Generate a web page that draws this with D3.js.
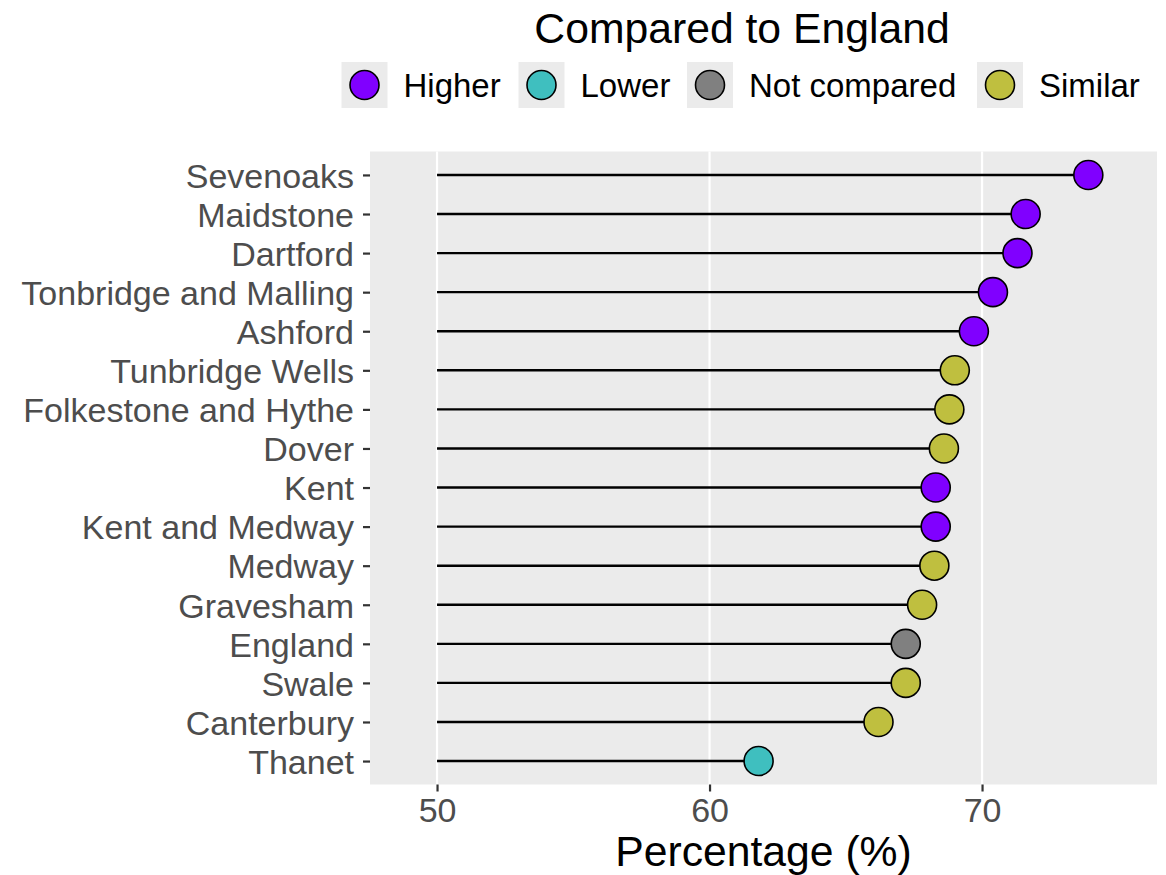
<!DOCTYPE html>
<html>
<head>
<meta charset="utf-8">
<script src="https://cdn.jsdelivr.net/npm/d3@7"></script>
<style>
body { margin: 0; background: #fff; }
text { font-family: "Liberation Sans", Arial, sans-serif; }
</style>
</head>
<body>
<script>
var areas = ["Sevenoaks", "Maidstone", "Dartford", "Tonbridge and Malling", "Ashford",
  "Tunbridge Wells", "Folkestone and Hythe", "Dover", "Kent", "Kent and Medway",
  "Medway", "Gravesham", "England", "Swale", "Canterbury", "Thanet"]
var values = [73.9, 71.6, 71.3, 70.4, 69.7, 69.0, 68.8, 68.6, 68.3, 68.3, 68.25, 67.8, 67.2, 67.2, 66.2, 61.8]
var groups = ["Higher", "Higher", "Higher", "Higher", "Higher", "Similar", "Similar", "Similar",
  "Higher", "Higher", "Similar", "Similar", "Not compared", "Similar", "Similar", "Lower"]
var legend_keys = ["Higher", "Lower", "Not compared", "Similar"]
var legend_colors = ["#8000FF", "#3FBFBF", "#808080", "#BFBF3F"]
var x_ticks = [50, 60, 70]
var seg_start = 50

var w = 1166, h = 875
var panel = {left: 370, right: 1157, top: 151.5, bottom: 784.5}

var svg = d3.select("body").append("svg")
  .attr("width", w)
  .attr("height", h)

var x = d3.scaleLinear()
  .domain([47.54, 76.42])
  .range([panel.left, panel.right])

var y = d3.scalePoint()
  .domain(areas)
  .range([panel.top, panel.bottom])
  .padding(0.6)

var color = d3.scaleOrdinal()
  .domain(legend_keys)
  .range(legend_colors)

// panel background
svg.append("rect")
  .attr("x", panel.left)
  .attr("y", panel.top)
  .attr("width", panel.right - panel.left)
  .attr("height", panel.bottom - panel.top)
  .attr("fill", "#EBEBEB")

// grid lines
svg.selectAll(".grid")
  .data(x_ticks)
  .enter().append("line")
  .attr("x1", d => x(d))
  .attr("x2", d => x(d))
  .attr("y1", panel.top)
  .attr("y2", panel.bottom)
  .attr("stroke", "white")
  .attr("stroke-width", 2.2)

// x axis
var xAxis = svg.append("g")
  .attr("transform", "translate(0," + panel.bottom + ")")
  .call(d3.axisBottom(x).tickValues(x_ticks).tickSize(7).tickPadding(6))
xAxis.select(".domain").remove()
xAxis.selectAll("line").attr("stroke", "#333333").attr("stroke-width", 2.2)
xAxis.selectAll("text")
  .attr("fill", "#4D4D4D")
  .style("font-size", "34px")
  .style("font-family", "Liberation Sans, Arial, sans-serif")

// y axis
var yAxis = svg.append("g")
  .attr("transform", "translate(" + panel.left + ",0)")
  .call(d3.axisLeft(y).tickSize(7).tickPadding(9))
yAxis.select(".domain").remove()
yAxis.selectAll("line").attr("stroke", "#333333").attr("stroke-width", 2.2)
yAxis.selectAll("text")
  .attr("fill", "#4D4D4D")
  .attr("dy", "0.36em")
  .style("font-size", "34px")
  .style("font-family", "Liberation Sans, Arial, sans-serif")

// lollipop sticks
svg.selectAll(".stick")
  .data(areas)
  .enter().append("line")
  .attr("x1", x(seg_start))
  .attr("x2", (d, i) => x(values[i]))
  .attr("y1", d => y(d))
  .attr("y2", d => y(d))
  .attr("stroke", "black")
  .attr("stroke-width", 2.4)

// dots
svg.selectAll(".dot")
  .data(areas)
  .enter().append("circle")
  .attr("cx", (d, i) => x(values[i]))
  .attr("cy", d => y(d))
  .attr("r", 14.5)
  .attr("fill", (d, i) => color(groups[i]))
  .attr("stroke", "black")
  .attr("stroke-width", 1.6)

// axis title
svg.append("text")
  .attr("x", (panel.left + panel.right) / 2)
  .attr("y", 866)
  .attr("text-anchor", "middle")
  .style("font-size", "42.7px")
  .text("Percentage (%)")

// legend
svg.append("text")
  .attr("x", 742)
  .attr("y", 43)
  .attr("text-anchor", "middle")
  .style("font-size", "42.7px")
  .text("Compared to England")

var legend_x = [341.5, 518.5, 687, 977]
var leg = svg.selectAll(".leg")
  .data(legend_keys)
  .enter().append("g")
  .attr("transform", (d, i) => "translate(" + legend_x[i] + ",62)")
leg.append("rect")
  .attr("width", 46)
  .attr("height", 46)
  .attr("fill", "#EBEBEB")
leg.append("circle")
  .attr("cx", 23)
  .attr("cy", 23)
  .attr("r", 14.5)
  .attr("fill", d => color(d))
  .attr("stroke", "black")
  .attr("stroke-width", 1.6)
leg.append("text")
  .attr("x", 62)
  .attr("y", 23)
  .attr("dy", "0.36em")
  .style("font-size", "33px")
  .text(d => d)
</script>
</body>
</html>
